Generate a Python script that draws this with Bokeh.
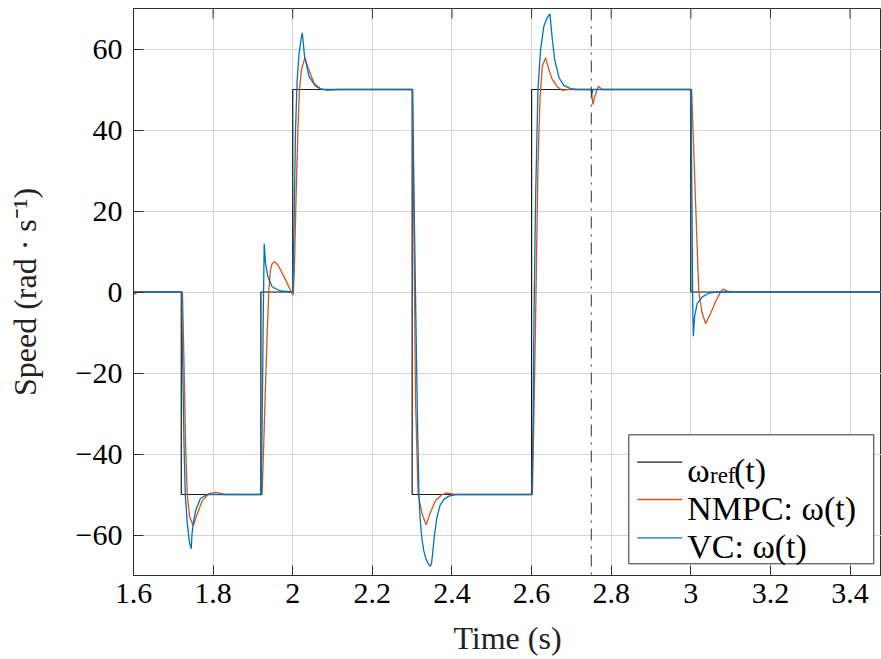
from bokeh.plotting import figure
from bokeh.models import (Range1d, FixedTicker, CustomJSTickFormatter,
                          Span, BoxAnnotation, Label, Arrow)
from bokeh.embed import file_html
from bokeh.resources import INLINE

# ---------------- data ----------------
ref_times = [1.6, 1.72, 1.92, 2.0, 2.3, 2.6, 3.0, 3.5]
ref_levels = [0, -50, 0, 50, -50, 50, 0, 0]

nmpc_t = [1.600, 1.610, 1.620, 1.723, 1.727, 1.731, 1.735, 1.741, 1.750, 1.760, 1.773,
          1.789, 1.806, 1.830, 1.923, 1.927, 1.931, 1.936, 1.940, 1.944, 1.948, 1.954,
          1.960, 1.965, 1.982, 1.995, 2.001, 2.004, 2.008, 2.013, 2.017, 2.022, 2.0305,
          2.0405, 2.053, 2.070, 2.087, 2.110, 2.301, 2.304, 2.3085, 2.315, 2.325, 2.335,
          2.346, 2.3588, 2.3755, 2.388, 2.405, 2.602, 2.606, 2.610, 2.616, 2.621, 2.627,
          2.635, 2.6435, 2.652, 2.6645, 2.677, 2.693, 2.750, 2.754, 2.759, 2.7675, 2.7775,
          3.002, 3.007, 3.012, 3.020, 3.028, 3.037, 3.0497, 3.062, 3.075, 3.0806, 3.0917,
          3.110, 3.500]
nmpc_w = [-0.6, -0.1, 0.0, 0.0, -18, -38, -50, -55.5, -57.7, -54.8, -51.5,
          -49.8, -49.5, -50, -50, -38, -25, -10, 0.5, 5.4, 6.9, 7.5,
          7.0, 6.3, 3.0, 0.3, -0.8, 5, 22, 40, 50, 55, 57.8,
          54.9, 51.6, 50.2, 49.8, 50, 50, 20, -26.7, -50, -54.8, -57.5,
          -54.4, -51.5, -50, -49.6, -50, -50, -30, -7, 31, 47.5, 55.8,
          57.8, 54.9, 52.5, 50.7, 49.8, 50, 50, 46.3, 48.3, 50.8, 50,
          50, 36, 22, 0, -5, -7.8, -5.3, -2.4, 0.1, 0.7, 0.2,
          0, 0]

vc_t = [1.600, 1.721, 1.724, 1.727, 1.730, 1.735, 1.740, 1.745, 1.747, 1.751, 1.756,
        1.768, 1.785, 1.921, 1.924, 1.926, 1.9284, 1.9317, 1.9375, 1.948, 1.969, 2.000,
        2.003, 2.007, 2.011, 2.016, 2.021, 2.024, 2.0296, 2.0405, 2.057, 2.073, 2.301,
        2.306, 2.313, 2.317, 2.320, 2.324, 2.329, 2.335, 2.341, 2.346, 2.349, 2.352,
        2.356, 2.362, 2.370, 2.380, 2.392, 2.410, 2.601, 2.604, 2.606, 2.610, 2.616,
        2.6226, 2.631, 2.639, 2.646, 2.652, 2.658, 2.669, 2.681, 2.698, 2.715, 2.750,
        2.7515, 2.754, 3.0005, 3.003, 3.0045, 3.0053, 3.0063, 3.0095, 3.016, 3.0288,
        3.0455, 3.066, 3.500]
vc_w = [0, 0, -20, -38, -50, -57, -61.5, -63.4, -59.7, -56.5, -54,
        -51, -50, -50, -25, -5, 11.9, 7.1, 3.8, 1.3, 0.25, 0,
        15, 40, 52, 59, 62.5, 64, 58.3, 53.3, 50.8, 50, 50,
        15, -30, -50, -56, -60.5, -63.8, -66, -67.2, -67.7, -66.8, -64,
        -60, -55.8, -52.7, -51.2, -50.4, -50, -50, -30, -7, 22.8, 50,
        59.9, 65.7, 67.7, 68.7, 62.4, 57.4, 52.9, 51, 50.2, 50, 50,
        48.8, 50, 50, 20, 0, -6.1, -10.9, -6.1, -2.8, -1.2,
        -0.3, 0, 0]

event_times = [2.75]

x_ticks = [1.6, 1.8, 2.0, 2.2, 2.4, 2.6, 2.8, 3.0, 3.2, 3.4]
y_ticks = [-60, -40, -20, 0, 20, 40, 60]
x_limits = [1.6, 3.479]
y_limits = [-70, 70]

legend_labels = ["NMPC: ω(t)", "VC: ω(t)"]

# ---------------- styling ----------------
FONT = "Liberation Serif"
C_REF = "#1a1a1a"
C_NMPC = "#D95319"
C_VC = "#0072BD"
AX = "#303030"

p = figure(width=881, height=659, output_backend="svg", toolbar_location=None,
           x_range=Range1d(*x_limits), y_range=Range1d(*y_limits),
           min_border_left=133, min_border_right=0, min_border_top=8,
           min_border_bottom=84, background_fill_color="white",
           border_fill_color="white")
p.outline_line_color = AX
p.outline_line_width = 1

xa = p.below[0]
ya = p.left[0]
xa.ticker = FixedTicker(ticks=x_ticks)
ya.ticker = FixedTicker(ticks=y_ticks)
xa.formatter = CustomJSTickFormatter(code="var v = Math.round(tick*10)/10; return v.toString();")
ya.formatter = CustomJSTickFormatter(code="return tick < 0 ? '\u2212' + Math.abs(tick).toString() : tick.toString();")
for ax in (xa, ya):
    ax.major_tick_in = 10
    ax.major_tick_out = 0
    ax.minor_tick_in = 0
    ax.minor_tick_out = 0
    ax.major_tick_line_color = AX
    ax.axis_line_color = AX
    ax.major_label_text_font = FONT
    ax.major_label_text_font_size = "30px"
    ax.major_label_text_color = "black"
    ax.axis_label_text_font = FONT
    ax.axis_label_text_font_size = "32px"
    ax.axis_label_text_font_style = "normal"
    ax.axis_label_text_color = "#222222"
xa.major_label_standoff = 8
ya.major_label_standoff = 11
xa.axis_label = "Time (s)"
ya.axis_label = "Speed (rad · s⁻¹)"
xa.axis_label_standoff = 14
ya.axis_label_standoff = 30

p.xgrid.grid_line_color = "#d4d4d4"
p.ygrid.grid_line_color = "#d4d4d4"
p.xgrid.grid_line_width = 1
p.ygrid.grid_line_width = 1

# mirrored tick marks on the top edge (half of each dash is clipped by the frame)
p.scatter(x_ticks, [y_limits[1]] * len(x_ticks), marker="dash", angle=1.5707963,
          size=20, line_color=AX, line_width=1)

p.step(ref_times, ref_levels, mode="after", line_color=C_REF, line_width=1.2)
p.line(nmpc_t, nmpc_w, line_color=C_NMPC, line_width=1.3)
p.line(vc_t, vc_w, line_color=C_VC, line_width=1.3)

for et in event_times:
    p.add_layout(Span(location=et, dimension="height", line_color="#333333",
                      line_width=1, line_dash="12 6 2 6"))

# ---------------- legend (screen units, relative to frame) ----------------
p.add_layout(BoxAnnotation(left=495.3, right=740.3, bottom=11.7, top=140.7,
                           left_units="screen", right_units="screen",
                           top_units="screen", bottom_units="screen",
                           fill_color="white", fill_alpha=1.0,
                           line_color=AX, line_width=1, line_alpha=1.0))
rows_y = [113.3, 76.0, 37.7]
base_y = [105.0, 67.2, 29.2]
for yy, col in zip(rows_y, [C_REF, C_NMPC, C_VC]):
    p.add_layout(Arrow(end=None, x_start=503.7, x_end=548.7, y_start=yy, y_end=yy,
                       start_units="screen", end_units="screen",
                       line_color=col, line_width=1.3))

def lab(x, y, txt, size="34px"):
    p.add_layout(Label(x=x, y=y, x_units="screen", y_units="screen", text=txt,
                       text_font=FONT, text_font_size=size, text_color="black",
                       text_baseline="alphabetic", text_align="left"))

lab(553.7, base_y[0], "ω")
lab(576.5, base_y[0] - 5, "ref", "23px")
lab(600.5, base_y[0], "(t)")
lab(553.7, base_y[1], legend_labels[0])
lab(553.7, base_y[2], legend_labels[1])

open("out.html", "w").write(file_html(p, INLINE))
